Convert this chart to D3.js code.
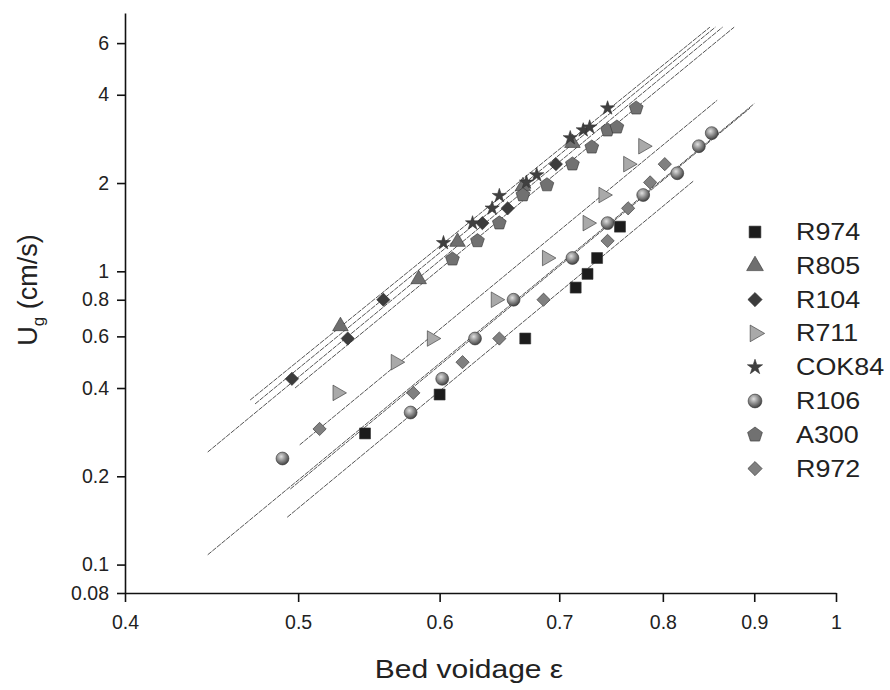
<!DOCTYPE html>
<html>
<head>
  <title>Ug vs bed voidage</title>
  <style>
    body { margin: 0; background: white; }
    svg { display: block; }
    text { font-family: "Liberation Sans", Arial, sans-serif; fill: #222; }
  </style>
</head>
<body>
<svg width="890" height="690"></svg>
<script src="https://d3js.org/d3.v7.min.js"></script>
<script>
  // series names, in legend order
  const series = ["R974", "R805", "R104", "R711", "COK84", "R106", "A300", "R972"];

  // measured points: bed voidage (eps) and superficial gas velocity Ug (cm/s)
  const epsR974 = [0.545, 0.600, 0.670, 0.715, 0.726, 0.735, 0.757];
  const ugR974 = [0.28, 0.38, 0.59, 0.88, 0.98, 1.11, 1.42];
  const epsR805 = [0.528, 0.584, 0.614, 0.668, 0.712];
  const ugR805 = [0.65, 0.94, 1.26, 1.95, 2.74];
  const epsR104 = [0.496, 0.533, 0.558, 0.634, 0.655, 0.697];
  const ugR104 = [0.43, 0.59, 0.80, 1.46, 1.64, 2.32];
  const epsR711 = [0.526, 0.567, 0.594, 0.645, 0.689, 0.726, 0.741, 0.765, 0.780];
  const ugR711 = [0.385, 0.49, 0.59, 0.80, 1.11, 1.46, 1.82, 2.32, 2.67];
  const epsCOK84 = [0.603, 0.626, 0.642, 0.648, 0.671, 0.680, 0.710, 0.722, 0.728, 0.745];
  const ugCOK84 = [1.25, 1.46, 1.64, 1.81, 2.01, 2.13, 2.85, 3.03, 3.10, 3.60];
  const epsR106 = [0.490, 0.578, 0.602, 0.628, 0.660, 0.712, 0.745, 0.780, 0.815, 0.838, 0.852];
  const ugR106 = [0.23, 0.33, 0.43, 0.59, 0.80, 1.11, 1.46, 1.82, 2.16, 2.67, 2.96];
  const epsA300 = [0.610, 0.630, 0.648, 0.668, 0.689, 0.712, 0.730, 0.745, 0.754, 0.773];
  const ugA300 = [1.10, 1.27, 1.46, 1.82, 1.97, 2.32, 2.65, 3.03, 3.10, 3.60];
  const epsR972 = [0.514, 0.580, 0.618, 0.648, 0.686, 0.745, 0.765, 0.787, 0.802];
  const ugR972 = [0.29, 0.385, 0.49, 0.59, 0.80, 1.27, 1.64, 2.01, 2.32];

  // fitted lines, read as end points [eps0, ug0, eps1, ug1]
  const fitR974 = [0.493, 0.145, 0.832, 2.03];
  const fitR805 = [0.470, 0.364, 0.850, 6.8];
  const fitR104 = [0.445, 0.242, 0.864, 6.8];
  const fitR711 = [0.501, 0.256, 0.858, 3.83];
  const fitCOK84 = [0.473, 0.353, 0.856, 6.8];
  const fitR106 = [0.445, 0.108, 0.900, 3.73];
  const fitA300 = [0.498, 0.40, 0.877, 6.8];
  const fitR972 = [0.495, 0.181, 0.895, 3.60];

  const xTicks = [0.4, 0.5, 0.6, 0.7, 0.8, 0.9, 1];
  const yTicks = [0.08, 0.1, 0.2, 0.4, 0.6, 0.8, 1, 2, 4, 6];

  const pts = {
    R974: [epsR974, ugR974], R805: [epsR805, ugR805], R104: [epsR104, ugR104],
    R711: [epsR711, ugR711], COK84: [epsCOK84, ugCOK84], R106: [epsR106, ugR106],
    A300: [epsA300, ugA300], R972: [epsR972, ugR972]
  };
  const fits = {
    R974: fitR974, R805: fitR805, R104: fitR104, R711: fitR711,
    COK84: fitCOK84, R106: fitR106, A300: fitA300, R972: fitR972
  };

  const svg = d3.select("svg");
  const x = d3.scaleLog().domain([0.4, 1]).range([125, 836]);
  const y = d3.scaleLog().domain([0.08, 7.6]).range([593, 13]);

  // sphere shading
  const defs = svg.append("defs");
  const grad = defs.append("radialGradient").attr("id", "ball")
    .attr("cx", "40%").attr("cy", "35%").attr("r", "65%");
  grad.append("stop").attr("offset", "0%").attr("stop-color", "#e0e0e0");
  grad.append("stop").attr("offset", "55%").attr("stop-color", "#888");
  grad.append("stop").attr("offset", "100%").attr("stop-color", "#444");

  const pentagon = {
    draw(ctx, size) {
      const r = Math.sqrt(size / 2.38);
      for (let i = 0; i < 5; i++) {
        const a = -Math.PI / 2 + i * 2 * Math.PI / 5;
        if (i === 0) ctx.moveTo(r * Math.cos(a), r * Math.sin(a));
        else ctx.lineTo(r * Math.cos(a), r * Math.sin(a));
      }
      ctx.closePath();
    }
  };

  const style = {
    R974: { type: d3.symbolSquare, size: 120, fill: "#1c1c1c", rot: 0 },
    R805: { type: d3.symbolTriangle, size: 105, fill: "#6f6f6f", rot: 0 },
    R104: { type: d3.symbolSquare, size: 88, fill: "#3c3c3c", rot: 45 },
    R711: { type: d3.symbolTriangle, size: 105, fill: "#a9a9a9", rot: 90 },
    COK84: { type: d3.symbolStar, size: 62, fill: "#404040", rot: 0 },
    R106: { type: d3.symbolCircle, size: 130, fill: "url(#ball)", rot: 0 },
    A300: { type: pentagon, size: 125, fill: "#717171", rot: 0 },
    R972: { type: d3.symbolSquare, size: 88, fill: "#808080", rot: 45 }
  };

  // axes
  const yAxis = svg.append("g")
    .attr("transform", "translate(125,0)")
    .call(d3.axisLeft(y).tickValues(yTicks).tickFormat(d => String(d)).tickSize(8).tickSizeOuter(0));
  const xAxis = svg.append("g")
    .attr("transform", "translate(0,593)")
    .call(d3.axisBottom(x).tickValues(xTicks).tickFormat(d => String(d)).tickSize(9).tickSizeOuter(0));
  [yAxis, xAxis].forEach(g => {
    g.selectAll("path, line").attr("stroke", "#111").attr("stroke-width", 1.6);
    g.selectAll("text").attr("font-size", 19.5).attr("fill", "#222")
      .style("font-family", "'Liberation Sans', Arial, sans-serif");
  });
  yAxis.selectAll("text").attr("x", -16);
  xAxis.selectAll("text").attr("y", 22);

  // fitted lines
  series.forEach(s => {
    const f = fits[s];
    svg.append("line")
      .attr("x1", x(f[0])).attr("y1", y(f[1]))
      .attr("x2", x(f[2])).attr("y2", y(f[3]))
      .attr("stroke", "#555").attr("stroke-width", 1)
      .attr("stroke-dasharray", "5,1");
  });

  // markers
  series.forEach(s => {
    const st = style[s];
    const [ex, uy] = pts[s];
    svg.append("g").selectAll("path")
      .data(ex.map((e, i) => [e, uy[i]]))
      .join("path")
      .attr("d", d3.symbol().type(st.type).size(st.size))
      .attr("transform", d => `translate(${x(d[0])},${y(d[1])}) rotate(${st.rot})`)
      .attr("fill", st.fill)
      .attr("stroke", "#333").attr("stroke-width", 0.6);
  });

  // legend
  const legend = svg.append("g");
  series.forEach((s, i) => {
    const st = style[s];
    const ly = 232 + i * 33.8;
    legend.append("path")
      .attr("d", d3.symbol().type(st.type).size(st.size * 1.15))
      .attr("transform", `translate(755,${ly}) rotate(${st.rot})`)
      .attr("fill", st.fill).attr("stroke", "#333").attr("stroke-width", 0.6);
    legend.append("text")
      .attr("transform", `translate(796,${ly + 8}) scale(1.12,1)`)
      .attr("font-size", 24).text(s);
  });

  // axis titles
  svg.append("text").attr("transform", "translate(469,678) scale(1.2,1)")
    .attr("text-anchor", "middle").attr("font-size", 25).text("Bed voidage ε");
  const yt = svg.append("text").attr("transform", "translate(37,290) rotate(-90)")
    .attr("text-anchor", "middle").attr("font-size", 27);
  yt.append("tspan").text("U");
  yt.append("tspan").attr("font-size", 17).attr("dy", 7).text("g");
  yt.append("tspan").attr("dy", -7).text(" (cm/s)");
</script>
</body>
</html>
